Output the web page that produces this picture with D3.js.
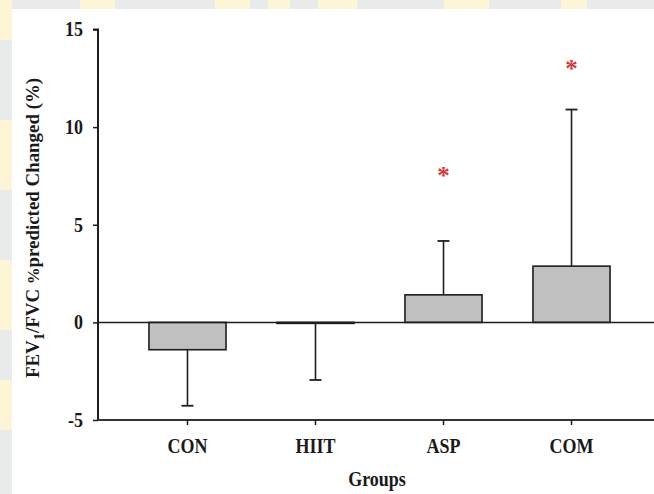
<!DOCTYPE html>
<html><head><meta charset="utf-8">
<script src="https://cdn.jsdelivr.net/npm/d3@7"></script>
<style>
html,body{margin:0;padding:0;background:#e9ebea;}
svg{display:block;}
text{font-family:"Liberation Serif","Times New Roman",serif;font-weight:bold;fill:#1a1a1a;}
</style></head>
<body>
<svg id="chart" width="654" height="494"></svg>
<script>
const categories = ["CON", "HIIT", "ASP", "COM"];
const means = [-1.40, -0.05, 1.41, 2.88];
const errors = [2.87, 2.90, 2.76, 8.02];
const sigMarks = [null, null, 7.7, 13.2];
const yTicks = [-5, 0, 5, 10, 15];
const xTitle = "Groups";

const svg = d3.select("#chart");
const SY = 1.12; // vertical stretch of the source image text
const FS = "18px";

// background watermark strips
const bg = svg.append("g");
bg.append("rect").attr("x",0).attr("y",0).attr("width",654).attr("height",494).attr("fill","#e9ebea");
const yellowTop = [[0,12],[80,115],[215,250],[268,290],[318,357],[444,489],[561,587]];
yellowTop.forEach(([a,b]) => bg.append("rect").attr("x",a).attr("y",0).attr("width",b-a).attr("height",10).attr("fill","#fdf6d6"));
const yellowLeft = [[0,40],[120,190],[260,330],[380,430]];
yellowLeft.forEach(([a,b]) => bg.append("rect").attr("x",0).attr("y",a).attr("width",12).attr("height",b-a).attr("fill","#fdf6d6"));
bg.append("rect").attr("x",12).attr("y",9).attr("width",642).attr("height",485).attr("fill","#ffffff");

const x = d3.scaleBand().domain(categories).range([98, 661]).paddingInner(0.398).paddingOuter(0.398);
const y = d3.scaleLinear().domain([-5, 15]).range([420, 29.5]);

const g = svg.append("g");

// bars
g.selectAll("rect.bar").data(categories).join("rect")
  .attr("class","bar")
  .attr("x", d => x(d))
  .attr("width", x.bandwidth())
  .attr("y", (d,i) => y(Math.max(0, means[i])))
  .attr("height", (d,i) => Math.max(1, Math.abs(y(means[i]) - y(0))))
  .attr("fill", "#c0c0c0")
  .attr("stroke", "#1e1e1e")
  .attr("stroke-width", 1.6);

// error bars (one-sided, away from zero)
categories.forEach((c,i) => {
  const cx = x(c) + x.bandwidth()/2;
  const end = means[i] >= 0 ? means[i] + errors[i] : means[i] - errors[i];
  g.append("line").attr("x1",cx).attr("x2",cx).attr("y1",y(means[i])).attr("y2",y(end))
    .attr("stroke","#1e1e1e").attr("stroke-width",1.6);
  g.append("line").attr("x1",cx-6).attr("x2",cx+6).attr("y1",y(end)).attr("y2",y(end))
    .attr("stroke","#1e1e1e").attr("stroke-width",1.8);
});

// zero line
g.append("line").attr("x1",98).attr("x2",654).attr("y1",y(0)).attr("y2",y(0))
  .attr("stroke","#1e1e1e").attr("stroke-width",1.5);

// y axis
const yAxis = d3.axisLeft(y).tickValues(yTicks).tickSize(5).tickPadding(10).tickFormat(d => String(d));
const ya = svg.append("g").attr("transform","translate(98,0)").call(yAxis);
ya.select(".domain").attr("stroke","#1e1e1e").attr("stroke-width",2).attr("d","M-5,29.5H0V420");
ya.selectAll(".tick line").attr("stroke","#1e1e1e").attr("stroke-width",1.5);
ya.selectAll(".tick text").style("font-size",FS).attr("fill","#1a1a1a")
  .attr("transform",`scale(1,${SY})`);

// x axis
const xAxis = d3.axisBottom(x).tickSize(5);
const xa = svg.append("g").attr("transform","translate(0,420)").call(xAxis);
xa.select(".domain").attr("stroke","#333").attr("stroke-width",2.2).attr("d","M98,0H654");
xa.selectAll(".tick line").attr("stroke","#1e1e1e").attr("stroke-width",1.5);
xa.selectAll(".tick text").style("font-size",FS).attr("fill","#1a1a1a")
  .attr("y", 33.5/SY).attr("dy", 0).attr("transform",`scale(1,${SY})`);

// significance stars
categories.forEach((c,i) => {
  if (sigMarks[i] == null) return;
  svg.append("text").attr("x", x(c) + x.bandwidth()/2).attr("y", y(sigMarks[i]) + 12)
    .attr("text-anchor","middle").style("font-size","25px").style("font-weight","bold")
    .style("fill","#d8353a").text("*");
});

// axis titles
svg.append("text").attr("transform",`translate(377,486) scale(1,${SY})`).attr("text-anchor","middle")
  .style("font-size",FS).text(xTitle);

const yt = svg.append("text").attr("transform","translate(38.5,228) scale(1,1.05) rotate(-90)")
  .attr("text-anchor","middle").style("font-size",FS);
yt.append("tspan").text("FEV");
yt.append("tspan").attr("dy",5).style("font-size","14px").text("1");
yt.append("tspan").attr("dy",-5).text("/FVC ");
yt.append("tspan").style("font-size","16px").text("%");
yt.append("tspan").text("predicted Changed (%)");
</script>
</body></html>
